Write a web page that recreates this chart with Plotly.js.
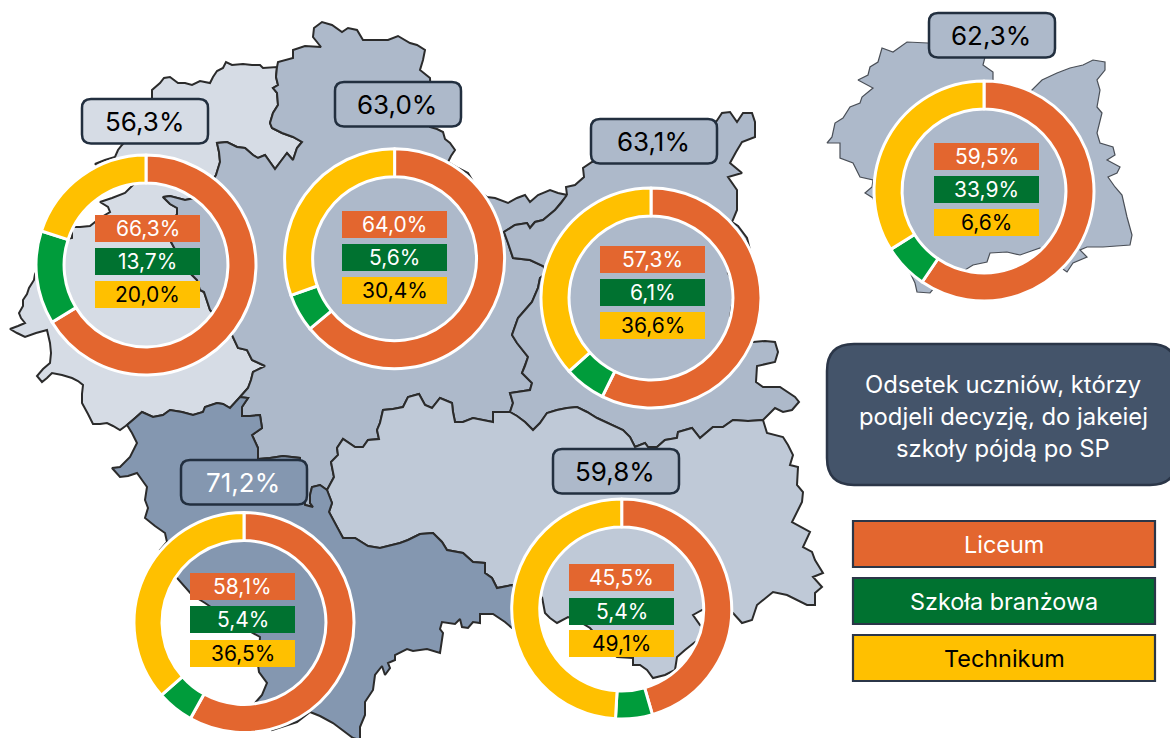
<!DOCTYPE html>
<html lang="pl">
<head>
<meta charset="utf-8">
<script src="https://cdn.plot.ly/plotly-3.0.1.min.js"></script>
<style>html,body{margin:0;padding:0;background:#fff}#chart{width:1170px;height:738px}</style>
</head>
<body>
<div id="chart"></div>
<script>
// ---- values ----
const totals    = [56.3, 63.0, 63.1, 71.2, 59.8, 62.3];
const liceum    = [66.3, 64.0, 57.3, 58.1, 45.5, 59.5];
const branzowa  = [13.7,  5.6,  6.1,  5.4,  5.4, 33.9];
const technikum = [20.0, 30.4, 36.6, 36.5, 49.1,  6.6];
// in the picture the last donut's rings are 59.5 / 6.6 / 33.9 although its labels read 59.5 / 33.9 / 6.6
const drawnOverride = {5: [59.5, 6.6, 33.9]};
const legendLabels = ['Liceum', 'Szkoła branżowa', 'Technikum'];
const titleLines = ['Odsetek uczniów, którzy', 'podjeli decyzję, do jakeiej', 'szkoły pójdą po SP'];

// ---- map borders (x, y in picture units) ----
const wOuter = [[127,425],[120,430],[113,426],[107,423],[100,424],[93,424],[88,414],[82,403],[82,394],[83,385],[78,381],[72,378],[62,375],[52,373],[47,378],[42,382],[37,376],[43,369],[50,363],[51,353],[50,343],[47,330],[36,333],[25,337],[17,333],[10,329],[18,326],[25,323],[21,318],[19,313],[23,306],[23,300],[27,294],[29,288],[34,280],[35,274],[45,255],[62,240],[72,238],[72,227],[80,227],[90,226],[100,218],[110,212],[108,207],[100,202],[112,198],[125,193],[133,185],[114,175],[95,164],[105,160],[115,157],[118,150],[122,145],[135,130],[152,98],[152,90],[160,83],[164,78],[170,77],[178,83],[185,83],[192,85],[200,81],[210,83],[213,77],[217,71],[223,68],[226,62],[232,65],[243,64],[252,65],[260,65],[263,68],[272,67],[277,67]];
const wCenter = [[277,67],[276,77],[278,85],[273,88],[277,93],[278,105],[273,113],[270,123],[272,128],[282,133],[293,137],[302,142],[297,148],[293,160],[287,153],[281,161],[275,169],[270,162],[265,155],[258,158],[253,155],[245,148],[237,147],[227,142],[217,143],[219,152],[220,162],[216,175],[205,192],[195,198],[185,200],[170,196],[163,197],[170,204],[177,208],[177,214],[172,225],[170,240],[178,255],[190,273],[197,280],[200,290],[204,292],[210,310],[224,325],[232,335],[235,342],[238,348],[247,350],[252,360],[265,366],[253,372],[251,380],[248,388],[240,397]];
const wDark = [[240,397],[235,403],[230,408],[223,404],[217,403],[205,407],[203,412],[193,415],[182,412],[170,410],[163,415],[153,417],[147,414],[142,412],[134,419],[127,425]];
const centerNorth = [[277,67],[278,62],[293,58],[293,50],[305,46],[321,47],[313,37],[314,28],[322,22],[332,25],[342,32],[348,28],[357,30],[363,40],[377,40],[388,40],[398,36],[410,43],[417,45],[425,50],[423,60],[420,70],[430,78],[431,100],[430,127],[437,129],[443,132],[445,139],[450,143],[455,150],[451,156],[448,162],[458,168],[468,173],[478,190],[487,197],[495,198],[508,203],[517,198],[525,195],[530,202],[538,195],[550,190],[558,193],[567,195]];
const centerEast = [[567,195],[561,203],[555,210],[543,220],[535,222],[530,228],[527,223],[515,225],[504,232],[508,243],[513,258],[530,260],[543,266],[548,272],[540,278],[538,288],[532,302],[525,310],[518,318],[512,335],[517,343],[528,357],[525,366],[522,373],[532,383],[530,390],[510,393],[513,403],[510,412]];
const centerSE = [[510,412],[493,412],[493,422],[483,420],[473,418],[463,422],[455,422],[453,412],[452,403],[440,398],[432,408],[425,405],[419,394],[408,397],[403,407],[393,409],[383,410],[380,423],[377,430],[379,439],[368,440],[363,447],[355,447],[343,439],[337,448],[338,455],[331,462],[334,477],[327,490]];
const centerDark = [[327,490],[320,485],[312,487],[310,495],[310,503],[313,507],[305,505],[300,480],[300,458],[283,456],[270,458],[258,459],[258,448],[252,435],[262,428],[260,415],[250,416],[242,416],[242,407],[248,398],[240,397]];
const eastOuter = [[567,195],[566,187],[575,185],[584,177],[583,168],[592,162],[650,140],[716,122],[722,113],[730,112],[737,122],[743,113],[752,113],[755,122],[755,137],[742,142],[736,152],[730,163],[742,173],[728,177],[737,190],[737,210],[732,222],[738,226],[747,238],[752,258],[728,273],[732,280],[733,300],[730,317],[745,340],[753,342],[765,341],[775,342],[778,352],[775,362],[757,366],[756,382],[763,387],[780,387],[795,397],[799,402],[792,410],[783,412],[775,408],[763,420]];
const eastSE = [[763,420],[748,421],[733,420],[723,427],[713,427],[700,438],[692,428],[678,432],[677,438],[665,440],[657,447],[648,447],[645,443],[635,447],[630,437],[623,430],[610,424],[597,418],[587,412],[577,407],[567,408],[557,410],[547,413],[540,423],[533,430],[525,422],[517,416],[510,412]];
const seOuter = [[763,420],[767,433],[783,437],[788,445],[793,455],[790,465],[798,467],[797,485],[803,492],[802,502],[792,522],[810,532],[803,547],[812,552],[815,560],[823,573],[813,577],[822,587],[815,593],[815,605],[807,605],[787,595],[773,592],[757,605],[752,620],[742,623],[733,613],[718,612],[702,610],[693,615],[700,625],[712,635],[695,642],[685,650],[677,657],[675,670],[665,675],[653,678],[647,670],[640,665],[633,665],[633,658],[617,657],[605,645],[590,628],[580,622],[568,617],[557,623],[550,618],[545,613],[542,597],[530,610]];
const seDark = [[530,610],[512,585],[497,588],[492,578],[485,573],[485,563],[473,562],[463,553],[447,550],[442,542],[433,533],[420,534],[408,540],[400,543],[380,548],[368,546],[355,538],[343,538],[337,527],[329,512],[332,503],[327,490]];
const darkOuter = [[530,610],[512,628],[505,622],[493,614],[480,614],[480,623],[473,622],[468,628],[462,627],[460,619],[455,624],[442,622],[440,629],[443,633],[440,653],[427,649],[413,651],[407,649],[395,655],[395,660],[388,663],[390,668],[385,675],[382,666],[375,675],[373,690],[365,702],[365,715],[360,727],[360,740],[353,738],[340,728],[333,723],[320,716],[310,712],[297,722],[285,726],[272,730],[265,720],[255,703],[262,695],[267,683],[259,672],[258,665],[260,637],[230,620],[205,603],[192,595],[177,578],[160,550],[167,542],[165,533],[155,526],[145,518],[148,508],[145,500],[147,487],[142,480],[137,473],[128,476],[120,477],[112,468],[120,467],[130,457],[137,443],[132,433],[127,425]];
const smallMap = [[985,57],[983,65],[993,72],[993,80],[1010,100],[1032,90],[1042,80],[1057,73],[1070,68],[1083,65],[1093,60],[1105,62],[1105,70],[1097,80],[1100,90],[1097,107],[1102,113],[1097,133],[1100,143],[1113,147],[1115,155],[1107,160],[1120,167],[1117,173],[1108,177],[1115,187],[1122,195],[1127,217],[1132,235],[1130,245],[1103,247],[1087,247],[1080,250],[1087,257],[1073,263],[1067,272],[1050,260],[1040,248],[1020,255],[1007,252],[990,253],[987,262],[973,265],[965,270],[945,275],[930,293],[917,292],[915,283],[905,262],[880,220],[873,198],[865,193],[872,187],[873,180],[860,177],[853,163],[840,158],[840,143],[827,143],[832,137],[835,123],[843,118],[850,107],[860,103],[862,97],[873,88],[858,80],[868,75],[870,67],[878,62],[882,48],[893,52],[907,42],[928,43],[950,40],[985,57]];

// ---- layout constants ----
const W = 1170, H = 738;
const donutX = [146, 394.6, 651, 244, 621.7, 984];
const donutY = [265, 258.7, 298, 622.5, 609, 191];
const donutR = 110, donutHole = 0.745;
const rectLeft = [95, 342, 600, 190, 569, 934];
const rectTop = [[215,248,281],[211,244,277],[246,279,312],[573,606,640],[564,598,630],[143,176,209]];
const rectW = 105, rectH = 27;
const boxLeft = [82, 335, 591, 181, 553, 929];
const boxTop  = [99, 82, 119, 460, 449, 13];
const boxW = 126, boxH = 44.5;
const C = {light:'#D6DCE5', mid:'#ADB9CA', dark:'#8497B0', se:'#BFC9D7', navy:'#44546A', edge:'#222F3F',
           orange:'#E3662F', greenRing:'#009C3B', greenBox:'#007230', yellow:'#FFC000', line:'#2B2B2B'};
const FONT = 'Inter, Liberation Sans, sans-serif';
const boxFill = [C.light, C.mid, C.mid, C.dark, C.mid, C.mid];
const boxText = ['#000','#000','#000','#fff','#000','#000'];

const rev = a => a.slice().reverse();
const pct = v => v.toFixed(1).replace('.', ',') + '%';
function region(parts, fill, lw, lc){
  const pts = [].concat(...parts);
  return {type:'scatter', mode:'lines', x:pts.map(p=>p[0]), y:pts.map(p=>p[1]), fill:'toself', fillcolor:fill,
          line:{color:lc||C.line, width:lw||2}, hoverinfo:'skip', showlegend:false, xaxis:'x', yaxis:'y'};
}
function rbox(x0,y0,w,h,r){
  const x1=x0+w, y1=y0+h;
  return `M${x0+r},${y0} L${x1-r},${y0} Q${x1},${y0} ${x1},${y0+r} L${x1},${y1-r} Q${x1},${y1} ${x1-r},${y1} L${x0+r},${y1} Q${x0},${y1} ${x0},${y1-r} L${x0},${y0+r} Q${x0},${y0} ${x0+r},${y0} Z`;
}
const data = [
  region([wOuter, wCenter, wDark], C.light),
  region([centerNorth, centerEast, centerSE, centerDark, rev(wCenter)], C.mid),
  region([eastOuter, eastSE, rev(centerEast)], C.mid),
  region([centerSE, rev(seDark), rev(seOuter), eastSE], C.se),
  region([centerDark, wDark, rev(darkOuter), seDark], C.dark),
  region([smallMap], C.mid, 1.2, '#4A4F57')
];
totals.forEach((t,i)=>{
  const vals = drawnOverride[i] || [liceum[i], branzowa[i], technikum[i]];
  data.push({type:'pie', values:vals, labels:legendLabels, sort:false, direction:'clockwise', rotation:0, hole:donutHole,
    textinfo:'none', hoverinfo:'skip', showlegend:false,
    marker:{colors:[C.orange,C.greenRing,C.yellow], line:{color:'#fff', width:3}},
    domain:{x:[(donutX[i]-donutR)/W,(donutX[i]+donutR)/W], y:[1-(donutY[i]+donutR)/H,1-(donutY[i]-donutR)/H]}});
});
const shapes = [], annotations = [];
const txt = (x,y,text,size,color)=>annotations.push({xref:'x',yref:'y',x,y,text,showarrow:false,xanchor:'center',yanchor:'middle',font:{family:FONT,size,color}});
totals.forEach((t,i)=>{
  shapes.push({type:'path',xref:'x',yref:'y',path:rbox(boxLeft[i],boxTop[i],boxW,boxH,9),fillcolor:boxFill[i],line:{color:C.edge,width:2.5}});
  txt(boxLeft[i]+boxW/2-1,boxTop[i]+boxH/2,pct(t),26,boxText[i]);
  const fills=[C.orange,C.greenBox,C.yellow], tc=['#fff','#fff','#000'], vs=[liceum[i],branzowa[i],technikum[i]];
  vs.forEach((v,k)=>{
    shapes.push({type:'rect',xref:'x',yref:'y',x0:rectLeft[i],x1:rectLeft[i]+rectW,y0:rectTop[i][k],y1:rectTop[i][k]+rectH,fillcolor:fills[k],line:{width:0}});
    txt(rectLeft[i]+rectW/2,rectTop[i][k]+rectH/2,pct(v),21,tc[k]);
  });
});
// title box
shapes.push({type:'path',xref:'x',yref:'y',path:rbox(827,344,350,141,27),fillcolor:C.navy,line:{color:'#2B3648',width:2.5}});
const titleY=[384,416,448];
titleLines.forEach((s,i)=>txt(1003,titleY[i],s,23.8,'#fff'));
// legend boxes
const legTop=[521,578,635], legFill=[C.orange,C.greenBox,C.yellow], legText=['#fff','#fff','#000'];
legendLabels.forEach((s,i)=>{
  shapes.push({type:'rect',xref:'x',yref:'y',x0:853,x1:1155,y0:legTop[i],y1:legTop[i]+46,fillcolor:legFill[i],line:{color:'#2B3648',width:2.2}});
  txt(1004,legTop[i]+23,s,23.4,legText[i]);
});
const layout = {width:W,height:H,autosize:false,margin:{l:0,r:0,t:0,b:0,pad:0},paper_bgcolor:'#fff',plot_bgcolor:'#fff',
  xaxis:{range:[0,W],visible:false,fixedrange:true},yaxis:{range:[H,0],visible:false,fixedrange:true},
  showlegend:false,shapes,annotations,font:{family:FONT}};
Plotly.newPlot('chart',data,layout,{displayModeBar:false,staticPlot:true});
</script>
</body>
</html>
